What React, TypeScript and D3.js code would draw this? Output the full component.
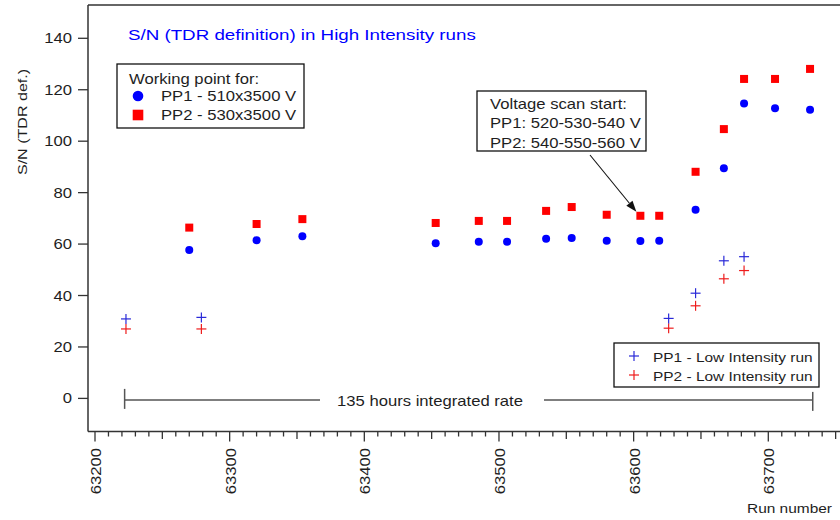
import React from "react";
import * as d3 from "d3";

// ---- data ----
const highRuns = [63270, 63320, 63354, 63453, 63485, 63506, 63535, 63554, 63580, 63605, 63619, 63646, 63667, 63682, 63705, 63731];
const pp1High = [57.7, 61.5, 63.0, 60.3, 60.9, 60.9, 62.1, 62.4, 61.3, 61.2, 61.3, 73.3, 89.5, 114.7, 112.8, 112.2];
const pp2High = [66.4, 67.8, 69.7, 68.2, 69.0, 69.0, 72.9, 74.4, 71.4, 71.0, 71.0, 88.1, 104.7, 124.2, 124.2, 128.1];

const lowRuns = [63223, 63279, 63626, 63646, 63667, 63682];
const pp1Low = [30.9, 31.5, 31.1, 40.9, 53.5, 55.1];
const pp2Low = [27.0, 27.0, 27.3, 36.0, 46.5, 49.7];

const yTicks = [0, 20, 40, 60, 80, 100, 120, 140];
const xMajorTicks = [63200, 63300, 63400, 63500, 63600, 63700];

const rateStartRun = 63222;
const rateEndRun = 63733;
const rateLabel = "135 hours integrated rate";
const arrowTargetRun = 63605;
const arrowTargetValue = 71.0;

const titleText = "S/N (TDR definition) in High Intensity runs";
const yLabel = "S/N  (TDR def.)";
const xLabel = "Run number";
const legend1Title = "Working point for:";
const legend1Items = ["PP1 - 510x3500 V", "PP2 - 530x3500 V"];
const annotLines = ["Voltage scan start:", "PP1: 520-530-540 V", "PP2: 540-550-560 V"];
const legend2Items = ["PP1 - Low Intensity run", "PP2 - Low Intensity run"];

const BLUE = "#0000ff";
const RED = "#ff0000";
const CROSS_BLUE = "#2a2ad8";
const CROSS_RED = "#ee1c1c";
const INK = "#1e1e1e";
const FONT = "'Liberation Sans', Arial, Helvetica, sans-serif";

function SText({ x, y, size = 14, anchor = "start", fill = INK, rotate = 0, sx = 1.19, children }: any) {
  return (
    <text
      transform={`translate(${x},${y}) rotate(${rotate}) scale(${sx},1)`}
      fontSize={size}
      textAnchor={anchor}
      fill={fill}
      fontFamily={FONT}
    >
      {children}
    </text>
  );
}

function Cross({ cx, cy, color, s = 5 }: any) {
  return (
    <g stroke={color} strokeWidth={1.2}>
      <line x1={cx - s} x2={cx + s} y1={cy} y2={cy} />
      <line x1={cx} x2={cx} y1={cy - s} y2={cy + s} />
    </g>
  );
}

export default function App() {
  const W = 840;
  const H = 520;
  const left = 88;
  const top = 5;
  const bottom = 431.5;
  const right = 840;

  const x = d3.scaleLinear().domain([63200, 63700]).range([95, 768.3]);
  const y = d3.scaleLinear().domain([0, 140]).range([398.4, 38.3]);

  const minorTicks = d3.range(63200, 63751, 10);

  const rateY = y(0) + 1.5;
  const x0 = x(rateStartRun);
  const x1 = x(rateEndRun);
  const textCenter = 430;

  const tipX = x(arrowTargetRun) - 4;
  const tipY = y(arrowTargetValue) - 4;
  const startX = 590;
  const startY = 155;
  const ang = Math.atan2(tipY - startY, tipX - startX);
  const aL = 11;
  const aW = 4;
  const bx = tipX - aL * Math.cos(ang);
  const by = tipY - aL * Math.sin(ang);
  const arrowPts = [
    [tipX, tipY],
    [bx + aW * Math.sin(ang), by - aW * Math.cos(ang)],
    [bx - aW * Math.sin(ang), by + aW * Math.cos(ang)],
  ]
    .map((p) => p.join(","))
    .join(" ");

  return (
    <svg
      width={W}
      height={H}
      style={{ position: "absolute", left: 0, top: 0, background: "#fff" }}
    >
      <rect x={0} y={0} width={W} height={H} fill="#fff" />

      {/* frame */}
      <line x1={left} x2={right} y1={top} y2={top} stroke="#333" strokeWidth={1.5} />
      <line x1={left} x2={left} y1={top} y2={bottom} stroke="#333" strokeWidth={1.5} />
      <line x1={left} x2={right} y1={bottom} y2={bottom} stroke="#333" strokeWidth={1.5} />

      {/* y ticks */}
      {yTicks.map((t) => (
        <g key={"y" + t}>
          <line x1={left - 10} x2={left} y1={y(t)} y2={y(t)} stroke="#333" strokeWidth={1.3} />
          <SText x={72} y={y(t) + 5} anchor="end">
            {t}
          </SText>
        </g>
      ))}

      {/* x ticks */}
      {minorTicks.map((t) => {
        const len = t % 100 === 0 ? 10 : t % 50 === 0 ? 7.5 : 5;
        return (
          <line key={"xt" + t} x1={x(t)} x2={x(t)} y1={bottom} y2={bottom + len} stroke="#333" strokeWidth={1.3} />
        );
      })}
      {xMajorTicks.map((t) => (
        <SText key={"xl" + t} x={x(t) + 6} y={448} rotate={-90} anchor="end">
          {t}
        </SText>
      ))}

      {/* axis titles */}
      <SText x={27} y={122} rotate={-90} anchor="middle" size={13.5}>
        {yLabel}
      </SText>
      <SText x={832} y={513} anchor="end" size={13}>
        {xLabel}
      </SText>
      <SText x={128} y={39.5} size={15.5} sx={1.21} fill={BLUE}>
        {titleText}
      </SText>

      {/* integrated rate line */}
      <g stroke="#555" strokeWidth={1.5}>
        <line x1={x0} x2={textCenter - 110} y1={rateY} y2={rateY} />
        <line x1={textCenter + 114} x2={x1} y1={rateY} y2={rateY} />
        <line x1={x0} x2={x0} y1={rateY - 11} y2={rateY + 9} />
        <line x1={x1} x2={x1} y1={rateY - 8} y2={rateY + 11} />
      </g>
      <SText x={textCenter} y={rateY + 6} anchor="middle">
        {rateLabel}
      </SText>

      {/* low intensity crosses */}
      {lowRuns.map((r, i) => (
        <g key={"lo" + i}>
          <Cross cx={x(r)} cy={y(pp2Low[i])} color={CROSS_RED} />
          <Cross cx={x(r)} cy={y(pp1Low[i])} color={CROSS_BLUE} />
        </g>
      ))}

      {/* high intensity */}
      {highRuns.map((r, i) => (
        <rect key={"sq" + i} x={x(r) - 4} y={y(pp2High[i]) - 4} width={8} height={8} fill={RED} />
      ))}
      {highRuns.map((r, i) => (
        <circle key={"ci" + i} cx={x(r)} cy={y(pp1High[i])} r={4} fill={BLUE} />
      ))}

      {/* legend 1 */}
      <rect x={117} y={64} width={187} height={64} fill="#fff" stroke="#111" strokeWidth={1.3} />
      <SText x={129} y={83.5}>{legend1Title}</SText>
      <circle cx={138} cy={96} r={5.3} fill={BLUE} />
      <rect x={132.7} y={109.7} width={10.6} height={10.6} fill={RED} />
      <SText x={161} y={101}>{legend1Items[0]}</SText>
      <SText x={161} y={120}>{legend1Items[1]}</SText>

      {/* annotation box */}
      <rect x={477} y={91} width={169} height={60} fill="#fff" stroke="#111" strokeWidth={1.3} />
      {annotLines.map((l, i) => (
        <SText key={"an" + i} x={490} y={109 + i * 19.3}>
          {l}
        </SText>
      ))}
      <line x1={startX} y1={startY} x2={bx} y2={by} stroke="#111" strokeWidth={1.1} />
      <polygon points={arrowPts} fill="#111" />

      {/* legend 2 */}
      <rect x={614} y={343} width={205} height={44} fill="#fff" stroke="#111" strokeWidth={1.3} />
      <Cross cx={634} cy={356} color={CROSS_BLUE} />
      <Cross cx={634} cy={375} color={CROSS_RED} />
      <SText x={653} y={362} size={13}>{legend2Items[0]}</SText>
      <SText x={653} y={381} size={13}>{legend2Items[1]}</SText>
    </svg>
  );
}
